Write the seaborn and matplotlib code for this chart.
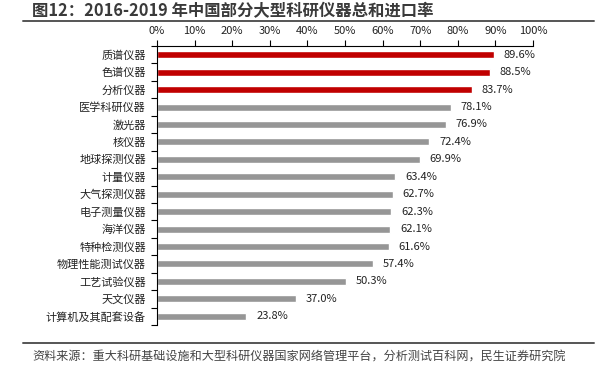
import matplotlib
matplotlib.use("Agg")
import matplotlib.pyplot as plt
import seaborn as sns
import pandas as pd
from matplotlib.lines import Line2D

categories = ["质谱仪器", "色谱仪器", "分析仪器", "医学科研仪器", "激光器", "核仪器", "地球探测仪器",
              "计量仪器", "大气探测仪器", "电子测量仪器", "海洋仪器", "特种检测仪器", "物理性能测试仪器",
              "工艺试验仪器", "天文仪器", "计算机及其配套设备"]
values = [89.6, 88.5, 83.7, 78.1, 76.9, 72.4, 69.9, 63.4, 62.7, 62.3, 62.1, 61.6, 57.4, 50.3, 37.0, 23.8]
highlight = [True, True, True] + [False] * 13
tick_labels = ["0%", "10%", "20%", "30%", "40%", "50%", "60%", "70%", "80%", "90%", "100%"]

sns.set_theme(style="white")
plt.rcParams['font.family'] = ['Noto Sans CJK SC', 'DejaVu Sans']

df = pd.DataFrame({"cat": categories, "val": values,
                   "grp": ["hi" if h else "lo" for h in highlight]})

fig = plt.figure(figsize=(6, 3.68), dpi=100)
ax = fig.add_axes([157/600, 1 - 325/368, (533-157)/600, (325-46)/368])
sns.barplot(data=df, y="cat", x="val", hue="grp", palette={"hi": "#C00000", "lo": "#969696"},
            dodge=False, legend=False, width=0.4, ax=ax, saturation=1)

ax.set_xlim(0, 100)
ax.set_ylim(len(categories) - 0.5, -0.5)
ax.xaxis.tick_top()
ax.set_xticks(range(0, 101, 10))
ax.set_xticklabels(tick_labels, fontsize=8, color="#222222")
ax.tick_params(axis="x", direction="out", length=4, width=0.8, color="black", pad=3)
ax.set_yticks([i for i in range(len(categories))])
ax.set_yticklabels(categories, fontsize=8, color="#222222")
ax.tick_params(axis="y", length=0, pad=8)
ax.set_yticks([i + 0.5 for i in range(-1, len(categories))], minor=True)
ax.tick_params(axis="y", which="minor", direction="out", length=4, width=0.8, color="black", left=True)
ax.set_xlabel("")
ax.set_ylabel("")
for s in ["right", "bottom"]:
    ax.spines[s].set_visible(False)
for s in ["top", "left"]:
    ax.spines[s].set_color("black")
    ax.spines[s].set_linewidth(0.8)

for i, v in enumerate(values):
    ax.text(v + 2.6, i, f"{v:.1f}%", va="center", ha="left", fontsize=8, color="#222222")

fig.text(32/600, 1 - 11/368, "图12：2016-2019 年中国部分大型科研仪器总和进口率", fontsize=11.8,
         fontweight="bold", color="#3a3a3a", va="center", ha="left")
fig.add_artist(Line2D([23/600, 594/600], [1 - 21/368, 1 - 21/368], color="#555555", lw=1.4))
fig.add_artist(Line2D([23/600, 594/600], [1 - 343/368, 1 - 343/368], color="#555555", lw=1.4))
fig.text(32/600, 1 - 357/368, "资料来源：重大科研基础设施和大型科研仪器国家网络管理平台，分析测试百科网，民生证券研究院",
         fontsize=8.7, color="#444444", va="center", ha="left")

fig.savefig("out.png", dpi=100)
